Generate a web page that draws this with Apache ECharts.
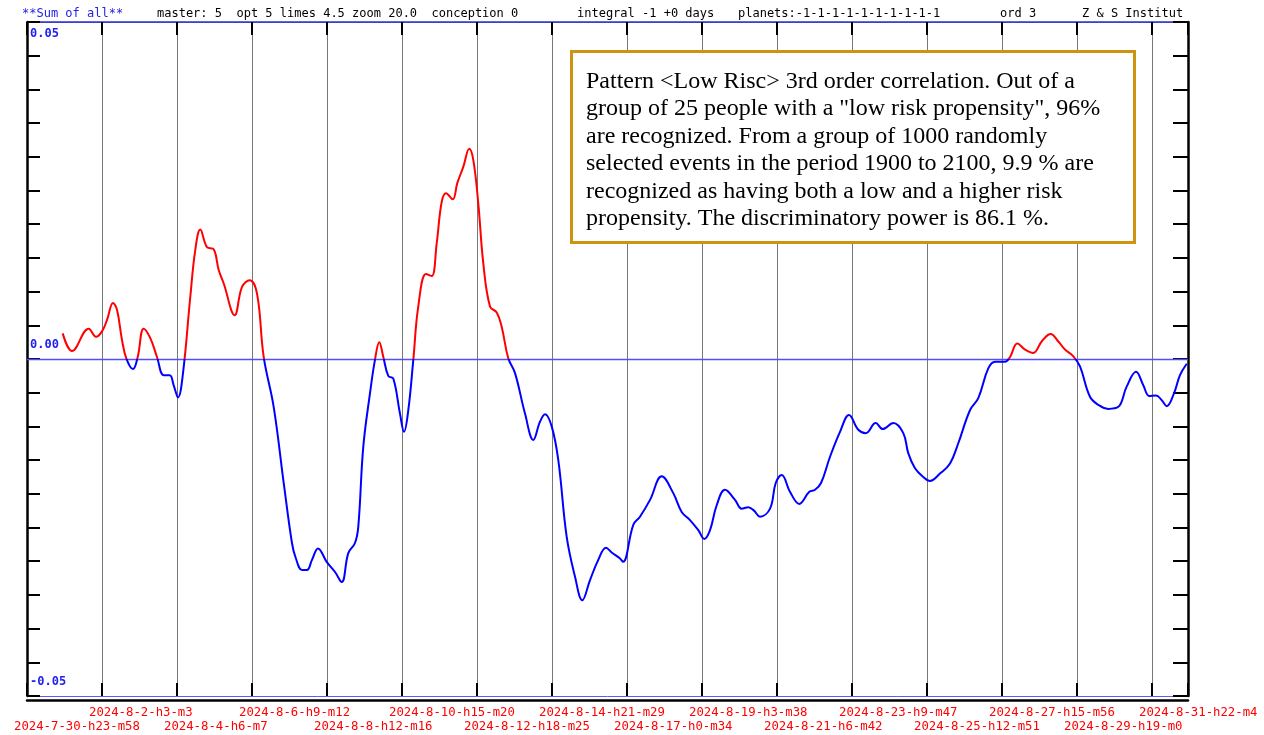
<!DOCTYPE html>
<html>
<head>
<meta charset="utf-8">
<script src="https://cdn.jsdelivr.net/npm/echarts@6/dist/echarts.min.js"></script>
<style>
  html, body { margin: 0; padding: 0; background: #fff; }
  #chart { width: 1264px; height: 735px; }
</style>
</head>
<body>
<div id="chart"></div>
<script>
// date labels under the vertical grid lines (one per grid step)
const xLabels = [
  '2024-7-30-h23-m58', '2024-8-2-h3-m3', '2024-8-4-h6-m7', '2024-8-6-h9-m12',
  '2024-8-8-h12-m16', '2024-8-10-h15-m20', '2024-8-12-h18-m25', '2024-8-14-h21-m29',
  '2024-8-17-h0-m34', '2024-8-19-h3-m38', '2024-8-21-h6-m42', '2024-8-23-h9-m47',
  '2024-8-25-h12-m51', '2024-8-27-h15-m56', '2024-8-29-h19-m0', '2024-8-31-h22-m4'
]

// position along the time axis, in grid steps (0 = first label)
const tPos = [
  0.476, 0.600, 0.823, 0.920, 1.000, 1.067, 1.147, 1.200, 1.267, 1.324,
  1.413, 1.476, 1.556, 1.644, 1.733, 1.823, 1.903, 1.956, 2.013, 2.080,
  2.177, 2.244, 2.311, 2.400, 2.489, 2.556, 2.623, 2.769, 2.867, 2.969,
  3.067, 3.156, 3.289, 3.423, 3.533, 3.577, 3.667, 3.733, 3.800, 3.880,
  3.996, 4.107, 4.196, 4.284, 4.373, 4.417, 4.484, 4.573, 4.640, 4.697,
  4.751, 4.817, 4.884, 4.973, 5.027, 5.084, 5.151, 5.217, 5.320, 5.396,
  5.463, 5.529, 5.587, 5.676, 5.737, 5.817, 5.897, 5.951, 6.017, 6.084,
  6.173, 6.263, 6.329, 6.417, 6.507, 6.640, 6.751, 6.840, 6.907, 6.996,
  7.084, 7.196, 7.307, 7.404, 7.507, 7.617, 7.720, 7.796, 7.907, 7.947,
  8.084, 8.173, 8.307, 8.463, 8.617, 8.729, 8.840, 8.951, 9.031, 9.107,
  9.196, 9.307, 9.440, 9.529, 9.617, 9.693, 9.773, 9.907, 9.983, 10.063,
  10.173, 10.297, 10.431, 10.507, 10.587, 10.707, 10.840, 10.960, 11.084, 11.183,
  11.316, 11.409, 11.551, 11.684, 11.751, 11.840, 11.951, 12.040, 12.173, 12.307,
  12.417, 12.573, 12.684, 12.817, 12.907, 13.040, 13.107, 13.204, 13.307, 13.417,
  13.529, 13.649, 13.751, 13.840, 13.951, 14.040, 14.173, 14.284, 14.417, 14.551,
  14.662, 14.787, 14.884, 14.964, 15.053, 15.129, 15.196, 15.293, 15.373, 15.463
]

// "Sum of all" values
const sumVals = [
  0.0038, 0.0012, 0.0045, 0.0033, 0.0041, 0.0058, 0.0083, 0.0073, 0.0028, 0.0001,
  -0.0015, 0.0003, 0.0045, 0.0031, 0.0003, -0.0024, -0.0024, -0.0039, -0.0057, -0.0021,
  0.0092, 0.0162, 0.0192, 0.0166, 0.0163, 0.0132, 0.0112, 0.0065, 0.0107, 0.0117,
  0.0097, 0.0003, -0.0071, -0.0184, -0.0273, -0.0293, -0.0313, -0.0313, -0.0298, -0.0281,
  -0.0301, -0.0316, -0.0331, -0.0288, -0.0273, -0.0249, -0.0130, -0.0051, -0.0001, 0.0025,
  0.0003, -0.0025, -0.0029, -0.0081, -0.0108, -0.0076, -0.0001, 0.0078, 0.0126, 0.0123,
  0.0172, 0.0233, 0.0246, 0.0237, 0.0261, 0.0285, 0.0312, 0.0295, 0.0231, 0.0142,
  0.0078, 0.0069, 0.0048, 0.0001, -0.0021, -0.0081, -0.0120, -0.0093, -0.0082, -0.0100,
  -0.0150, -0.0264, -0.0323, -0.0358, -0.0328, -0.0298, -0.0280, -0.0287, -0.0296, -0.0301,
  -0.0246, -0.0234, -0.0209, -0.0174, -0.0199, -0.0227, -0.0239, -0.0254, -0.0267, -0.0254,
  -0.0217, -0.0194, -0.0209, -0.0222, -0.0220, -0.0225, -0.0234, -0.0222, -0.0184, -0.0172,
  -0.0197, -0.0215, -0.0197, -0.0194, -0.0184, -0.0145, -0.0108, -0.0083, -0.0105, -0.0110,
  -0.0095, -0.0104, -0.0095, -0.0110, -0.0140, -0.0162, -0.0175, -0.0181, -0.0170, -0.0155,
  -0.0125, -0.0076, -0.0058, -0.0014, -0.0004, -0.0004, 0.0003, 0.0023, 0.0014, 0.0009,
  0.0026, 0.0037, 0.0026, 0.0014, 0.0004, -0.0011, -0.0056, -0.0068, -0.0074, -0.0071,
  -0.0041, -0.0019, -0.0039, -0.0055, -0.0054, -0.0061, -0.0070, -0.0051, -0.0024, -0.0007
]

const noteText = [
  'Pattern <Low Risc> 3rd order correlation. Out of a',
  'group of 25 people with a "low risk propensity", 96%',
  'are recognized. From a group of 1000 randomly',
  'selected events in the period 1900 to 2100, 9.9 % are',
  'recognized as having both a low and a higher risk',
  'propensity. The discriminatory power is 86.1 %.'
]

const MONO = '"DejaVu Sans Mono", monospace'
const X_MAX = 15.48
const STEP = 75 // px between grid lines

// date label axis; odd labels sit in the upper row, even ones in the lower row
function dateAxis(gridIndex, max, first, margin) {
  return {
    type: 'value', gridIndex: gridIndex, min: 0, max: max, interval: 2,
    axisLine: { show: false, onZero: false },
    axisTick: { show: false },
    splitLine: { show: false },
    axisLabel: {
      show: true,
      showMinLabel: true,
      showMaxLabel: false,
      align: 'left',
      verticalAlign: 'middle',
      margin: margin,
      color: '#ff0000',
      fontFamily: MONO,
      fontSize: 12.3,
      formatter: function (v) {
        return xLabels[Math.round(v) + first] || ''
      },
    },
  }
}

let chart = echarts.init(document.getElementById('chart'))

chart.setOption({
  animation: false,
  backgroundColor: '#fff',
  grid: [
    { left: 27, right: 76, top: 22, bottom: 39 },
    // label grids, shifted left so labels start just before their line
    { left: 14, right: 89, top: 22, bottom: 39 },
    { left: 14 + STEP, right: 89, top: 22, bottom: 39 },
  ],
  xAxis: [
    {
      type: 'value', gridIndex: 0, min: 0, max: X_MAX, interval: 1,
      axisLine: { show: false, onZero: false },
      axisTick: { show: true, inside: true, length: 13, lineStyle: { color: '#000', width: 2 } },
      axisLabel: { show: false },
      splitLine: { show: true, lineStyle: { color: '#777', width: 1 } },
    },
    {
      type: 'value', gridIndex: 0, position: 'top', min: 0, max: X_MAX, interval: 1,
      axisLine: { show: true, onZero: false, lineStyle: { color: '#3333cc', width: 1.5 } },
      axisTick: { show: true, inside: true, length: 13, lineStyle: { color: '#000', width: 2 } },
      axisLabel: { show: false },
      splitLine: { show: false },
    },
    {
      // black frame line just below the plot
      type: 'value', gridIndex: 0, position: 'bottom', offset: 4, min: 0, max: X_MAX,
      axisLine: { show: true, onZero: false, lineStyle: { color: '#000', width: 2.5 } },
      axisTick: { show: false },
      axisLabel: { show: false },
      splitLine: { show: false },
    },
    dateAxis(1, X_MAX, 0, 31),
    dateAxis(2, X_MAX - 1, 1, 17),
  ],
  yAxis: [
    {
      type: 'value', gridIndex: 0, position: 'left', min: -0.05, max: 0.05, interval: 0.005,
      axisLine: { show: true, onZero: false, lineStyle: { color: '#000', width: 2.5 } },
      axisTick: { show: true, inside: true, length: 13, lineStyle: { color: '#000', width: 2 } },
      splitLine: { show: false },
      axisLabel: {
        inside: true,
        margin: 3,
        verticalAlign: 'bottom',
        lineHeight: 28,
        color: '#2222ee',
        fontFamily: MONO,
        fontSize: 12,
        fontWeight: 'bold',
        formatter: function (v) {
          if (Math.abs(v) < 1e-9) return '0.00'
          if (Math.abs(v + 0.05) < 1e-9) return '-0.05'
          return ''
        },
      },
    },
    {
      // 0.05 label (sits below its line) and the blue lines at -0.05 / 0.05
      type: 'value', gridIndex: 0, position: 'left', min: -0.05, max: 0.05, interval: 0.05,
      axisLine: { show: false, onZero: false },
      axisTick: { show: false },
      splitLine: { show: true, lineStyle: { color: '#5a5aff', width: 1 } },
      axisLabel: {
        inside: true,
        margin: 3,
        verticalAlign: 'top',
        lineHeight: 24,
        color: '#2222ee',
        fontFamily: MONO,
        fontSize: 12,
        fontWeight: 'bold',
        formatter: function (v) {
          return Math.abs(v - 0.05) < 1e-9 ? '0.05' : ''
        },
      },
    },
    {
      type: 'value', gridIndex: 0, position: 'right', min: -0.05, max: 0.05, interval: 0.005,
      axisLine: { show: true, onZero: false, lineStyle: { color: '#000', width: 2.5 } },
      axisTick: { show: true, inside: true, length: 15, lineStyle: { color: '#000', width: 2 } },
      axisLabel: { show: false },
      splitLine: { show: false },
    },
    { type: 'value', gridIndex: 1, min: -0.05, max: 0.05, show: false },
    { type: 'value', gridIndex: 2, min: -0.05, max: 0.05, show: false },
  ],
  visualMap: {
    type: 'piecewise',
    show: false,
    seriesIndex: 0,
    dimension: 1,
    pieces: [
      { gt: 0, lte: 0.05, color: '#ff0000' },
      { gte: -0.05, lte: 0, color: '#0000ff' },
    ],
    outOfRange: { color: '#0000ff' },
  },
  series: [
    {
      type: 'line',
      xAxisIndex: 0,
      yAxisIndex: 0,
      data: tPos.map((t, i) => [t, sumVals[i]]),
      showSymbol: false,
      smooth: 0.4,
      lineStyle: { width: 2 },
      z: 5,
    },
    {
      // blue zero line, drawn over the grid lines
      type: 'line',
      xAxisIndex: 0,
      yAxisIndex: 0,
      data: [],
      silent: true,
      z: 4,
      markLine: {
        silent: true,
        symbol: 'none',
        label: { show: false },
        lineStyle: { color: '#4f4fff', width: 1.3, type: 'solid', opacity: 1 },
        emphasis: { disabled: true },
        data: [{ yAxis: 0 }],
      },
    },
  ],
  graphic: [
    { type: 'text', left: 22, top: 8, style: { text: '**Sum of all**', fill: '#2222ee', font: '12px ' + MONO } },
    { type: 'text', left: 157, top: 8, style: { text: 'master: 5  opt 5 limes 4.5 zoom 20.0  conception 0', fill: '#000', font: '12px ' + MONO } },
    { type: 'text', left: 577, top: 8, style: { text: 'integral -1 +0 days', fill: '#000', font: '12px ' + MONO } },
    { type: 'text', left: 738, top: 8, style: { text: 'planets:-1-1-1-1-1-1-1-1-1-1', fill: '#000', font: '12px ' + MONO } },
    { type: 'text', left: 1000, top: 8, style: { text: 'ord 3', fill: '#000', font: '12px ' + MONO } },
    { type: 'text', left: 1082, top: 8, style: { text: 'Z & S Institut', fill: '#000', font: '12px ' + MONO } },
    {
      type: 'rect',
      left: 570, top: 50, z: 20,
      shape: { width: 563, height: 191 },
      style: { fill: '#fff', stroke: '#cc9410', lineWidth: 3 },
    },
    {
      type: 'text',
      left: 586, top: 68, z: 21,
      style: {
        text: noteText.join('\n'),
        fill: '#000',
        font: '24px "Liberation Serif", serif',
        lineHeight: 27.4,
      },
    },
  ],
})
</script>
</body>
</html>
